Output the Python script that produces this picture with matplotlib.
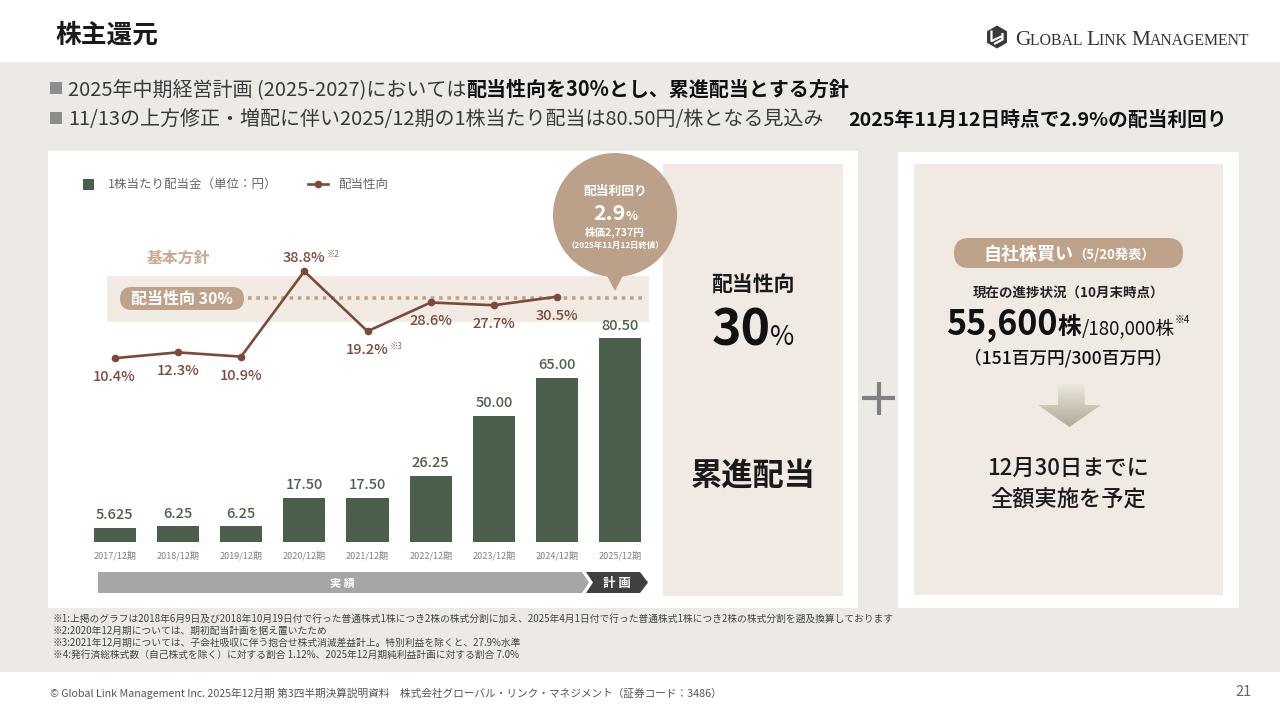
import matplotlib
matplotlib.use('Agg')
import matplotlib.pyplot as plt
from matplotlib.patches import Rectangle, FancyBboxPatch, Circle, Polygon, RegularPolygon
from matplotlib.colors import LinearSegmentedColormap
import numpy as np

plt.rcParams['font.family'] = ['Noto Sans CJK JP', 'DejaVu Sans']

# ---------------- data ----------------
periods = ['2017/12期', '2018/12期', '2019/12期', '2020/12期', '2021/12期',
           '2022/12期', '2023/12期', '2024/12期', '2025/12期']
dps = [5.625, 6.25, 6.25, 17.50, 17.50, 26.25, 50.00, 65.00, 80.50]
dps_labels = ['5.625', '6.25', '6.25', '17.50', '17.50', '26.25', '50.00', '65.00', '80.50']
payout = [10.4, 12.3, 10.9, 38.8, 19.2, 28.6, 27.7, 30.5]
payout_labels = ['10.4%', '12.3%', '10.9%', '38.8%', '19.2%', '28.6%', '27.7%', '30.5%']
payout_notes = ['', '', '', '※2', '※3', '', '', '']
payout_above = [False, False, False, True, False, False, False, False]
policy_payout = 30

footnotes = [
    '※1:上掲のグラフは2018年6月9日及び2018年10月19日付で行った普通株式1株につき2株の株式分割に加え、2025年4月1日付で行った普通株式1株につき2株の株式分割を遡及換算しております',
    '※2:2020年12月期については、期初配当計画を据え置いたため',
    '※3:2021年12月期については、子会社吸収に伴う抱合せ株式消滅差益計上。特別利益を除くと、27.9%水準',
    '※4:発行済総株式数（自己株式を除く）に対する割合 1.12%、2025年12月期純利益計画に対する割合 7.0%',
]

# ---------------- colors ----------------
C_BG = '#EDEAE6'
C_BEIGE = '#F0EAE3'
C_BAND = '#F2EBE3'
C_PILL = '#BEA38A'
C_GREEN = '#4B604A'
C_BROWN = '#7B4A3A'

W, H = 1280, 720
fig = plt.figure(figsize=(12.8, 7.2), dpi=100)
fig.patch.set_facecolor('white')

bg = fig.add_axes([0, 0, 1, 1], zorder=0)
bg.set_xlim(0, W); bg.set_ylim(H, 0); bg.axis('off')
ov = fig.add_axes([0, 0, 1, 1], zorder=5)
ov.set_xlim(0, W); ov.set_ylim(H, 0); ov.axis('off')

R = fig.canvas.get_renderer()


def rich(x, y, parts, ha='left', axx=None, **common):
    axx = axx or ov
    texts, widths = [], []
    for s, kw in parts:
        p = dict(common)
        p.update(kw)
        dy = p.pop('dy', 0)
        t = axx.text(0, y + dy, s, ha='left', va='baseline', **p)
        widths.append(t.get_window_extent(renderer=R).width)
        texts.append(t)
    total = sum(widths)
    cur = x if ha == 'left' else (x - total / 2 if ha == 'center' else x - total)
    for t, w in zip(texts, widths):
        t.set_x(cur)
        cur += w
    return total


# ---------------- backgrounds ----------------
bg.add_patch(Rectangle((0, 62), W, 610, color=C_BG, lw=0))
bg.add_patch(Rectangle((48, 151), 810, 457, color='white', lw=0))
bg.add_patch(Rectangle((898, 152), 341, 456, color='white', lw=0))
bg.add_patch(Rectangle((663, 164), 180, 432, color=C_BEIGE, lw=0))
bg.add_patch(Rectangle((914, 164), 309, 431, color=C_BEIGE, lw=0))
bg.add_patch(Rectangle((107, 276), 542, 46, color=C_BAND, lw=0))

# ---------------- header ----------------
ov.text(55, 42.5, '株主還元', fontsize=18.5, fontweight='bold', color='#1a1a1a', va='baseline')

# logo
ov.add_patch(RegularPolygon((997, 37), numVertices=6, radius=11.5, orientation=0, color='#3a3a3a', lw=0))
ov.plot([991.5, 991.5, 1002.5], [30.5, 41, 36], color='white', lw=1.6, solid_capstyle='butt')
ov.plot([994, 1002.5, 1002.5], [44, 39.5, 33], color='white', lw=1.6, solid_capstyle='butt')
rich(1015, 45, [('G', {'fontsize': 15.4}), ('LOBAL ', {'fontsize': 11.3}),
                ('L', {'fontsize': 15.4}), ('INK ', {'fontsize': 11.3}),
                ('M', {'fontsize': 15.4}), ('ANAGEMENT', {'fontsize': 11.3})],
     family='Liberation Serif', color='#333333')

# bullets
for yb in (82, 112):
    ov.add_patch(Rectangle((50, yb), 12, 12, color='#8C8C8C', lw=0))
rich(68, 95.5, [('2025年中期経営計画 (2025-2027)においては', {}),
                ('配当性向を30%とし、累進配当とする方針', {'fontweight': 'bold', 'color': '#111111'})],
     fontsize=14.4, color='#3a3a3a')
rich(68, 125.5, [('11/13の上方修正・増配に伴い2025/12期の1株当たり配当は80.50円/株となる見込み', {})],
     fontsize=14.4, color='#3a3a3a')
rich(848, 125.5, [('2025年11月12日時点で2.9%の配当利回り', {})], fontsize=14.2, fontweight='bold', color='#111111')

# ---------------- chart ----------------
ax = fig.add_axes([83 / W, (H - 542) / H, 569 / W, 362 / H], zorder=2)
ax.patch.set_alpha(0)
x = np.arange(len(periods))
ax.bar(x, dps, width=0.665, color=C_GREEN, zorder=2)
ax.set_xlim(-0.5, 8.5)
ax.set_ylim(0, 362 / 2.53)
for s in ax.spines.values():
    s.set_visible(False)
ax.set_yticks([])
ax.set_xticks(x)
ax.set_xticklabels(periods, fontsize=6.5, color='#808080')
ax.tick_params(axis='x', length=0, pad=6.5)
ax.axhline(0, color='#DDDDDD', lw=1, zorder=1)
for xi, v, lab in zip(x, dps, dps_labels):
    ax.annotate(lab, (xi, v), xytext=(0, 6), textcoords='offset points', ha='center',
                va='baseline', fontsize=10.5, fontweight='medium', color=C_GREEN)

ax2 = ax.twinx()
ax2.set_zorder(3)
ax2.patch.set_alpha(0)
ax2.set_ylim((390 - 542) / 3.06, (390 - 180) / 3.06)
ax2.axis('off')
ax2.hlines(policy_payout, 2.11, 8.39, colors=C_PILL, lw=2.6, linestyles=(0, (1.0, 1.3)), zorder=1)
xp = x[:len(payout)]
ax2.plot(xp, payout, color=C_BROWN, lw=1.9, marker='o', ms=4.5, zorder=3)
for xi, v, lab, note, above in zip(xp, payout, payout_labels, payout_notes, payout_above):
    off = 6.5 if above else -16.5
    ax2.annotate(lab, (xi, v), xytext=(0, off), textcoords='offset points', ha='center',
                 va='baseline', fontsize=10.5, fontweight='medium', color=C_BROWN)
    if note:
        ax2.annotate(note, (xi, v), xytext=(16, off + 3.5), textcoords='offset points', ha='left',
                     va='baseline', fontsize=6, color='#8a6a5a')

# legend
ov.add_patch(Rectangle((83, 179), 11, 11, color=C_GREEN, lw=0))
ov.text(108, 184, '1株当たり配当金（単位：円）', fontsize=9, color='#666666', va='center')
ov.plot([308, 328], [184, 184], color=C_BROWN, lw=1.9)
ov.plot([318], [184], marker='o', ms=4.5, color=C_BROWN)
ov.text(338, 184, '配当性向', fontsize=9, color='#666666', va='center')

# policy labels
ov.text(147, 258, '基本方針', fontsize=11.4, fontweight='bold', color='#C8AA90', va='center')
ov.add_patch(FancyBboxPatch((120, 287), 124, 23, boxstyle='round,pad=0,rounding_size=11.5',
                            color=C_PILL, lw=0))
ov.text(182, 298.5, '配当性向 30%', fontsize=11.5, fontweight='bold', color='white',
        ha='center', va='center')

# bubble
ov.add_patch(Circle((615, 215), 62, color='#BBA18A', lw=0))
ov.add_patch(Polygon([(603, 268), (627, 268), (615, 291)], closed=True, color='#BBA18A', lw=0))
ov.text(615, 191, '配当利回り', fontsize=9.2, fontweight='bold', color='white', ha='center', va='center')
rich(615, 220, [('2.9', {'fontsize': 15.5}), ('%', {'fontsize': 9})], ha='center',
     fontweight='bold', color='white')
ov.text(615, 232, '株価2,737円', fontsize=7.6, fontweight='bold', color='white', ha='center', va='center')
ov.text(615, 245, '（2025年11月12日終値）', fontsize=6, fontweight='bold', color='white', ha='center', va='center')

# 実績 / 計画 arrow
ov.add_patch(Polygon([(98, 572), (582, 572), (589, 582.5), (582, 593), (98, 593)], closed=True,
                     color='#A6A6A6', lw=0))
ov.add_patch(Polygon([(586, 572), (640, 572), (648, 582.5), (640, 593), (586, 593), (593, 582.5)],
                     closed=True, color='#404040', lw=0))
ov.text(342, 583, '実 績', fontsize=8, fontweight='bold', color='white', ha='center', va='center')
ov.text(617, 583, '計 画', fontsize=9, fontweight='bold', color='white', ha='center', va='center')

# middle panel
ov.text(753, 284, '配当性向', fontsize=15, fontweight='bold', color='#1a1a1a', ha='center', va='center')
rich(753, 345, [('30', {'fontsize': 36, 'fontweight': 'bold'}), ('%', {'fontsize': 19})],
     ha='center', color='#111111')
ov.text(753, 476, '累進配当', fontsize=22.5, fontweight='bold', color='#1a1a1a', ha='center', va='center')

# plus sign
ov.plot([862, 895], [398, 398], color='#808080', lw=3, solid_capstyle='butt')
ov.plot([878.5, 878.5], [382, 415], color='#808080', lw=3, solid_capstyle='butt')

# right panel
ov.add_patch(FancyBboxPatch((954, 238), 229, 30, boxstyle='round,pad=0,rounding_size=15',
                            color=C_PILL, lw=0))
rich(1069, 259.5, [('自社株買い', {'fontsize': 13}), ('（5/20発表）', {'fontsize': 9.5})],
     ha='center', fontweight='bold', color='white')
ov.text(1069, 293, '現在の進捗状況（10月末時点）', fontsize=9.7, fontweight='bold', color='#222222',
        ha='center', va='center')
rich(1068, 334, [('55,600', {'fontsize': 24.5, 'fontweight': 'bold'}),
                 ('株', {'fontsize': 17, 'fontweight': 'bold'}),
                 ('/180,000株', {'fontsize': 13.5}),
                 ('※4', {'fontsize': 7, 'dy': -11})], ha='center', color='#111111')
ov.text(1068, 358, '（151百万円/300百万円）', fontsize=12.7, fontweight='medium', color='#111111',
        ha='center', va='center')

# gradient arrow
arrow_pts = [(1058, 383), (1085, 383), (1085, 405), (1101, 405), (1069.5, 427), (1038, 405), (1058, 405)]
arrow = Polygon(arrow_pts, closed=True, facecolor='none', edgecolor='none')
ov.add_patch(arrow)
cmap = LinearSegmentedColormap.from_list('g', ['#EEE9E1', '#B0A997'])
im = ov.imshow(np.linspace(0, 1, 100).reshape(-1, 1), cmap=cmap, aspect='auto',
               extent=(1038, 1101, 427, 383), origin='upper', zorder=4)
im.set_clip_path(arrow)
ov.set_xlim(0, W); ov.set_ylim(H, 0)

ov.text(1068, 468, '12月30日までに', fontsize=16, fontweight='medium', color='#1a1a1a', ha='center', va='center')
ov.text(1068, 499, '全額実施を予定', fontsize=16, fontweight='medium', color='#1a1a1a', ha='center', va='center')

# footnotes
for i, s in enumerate(footnotes):
    ov.text(53, 619 + 12 * i, s, fontsize=7.0, color='#444444', va='center')

# footer
ov.text(50, 693, '© Global Link Management Inc. 2025年12月期 第3四半期決算説明資料　株式会社グローバル・リンク・マネジメント（証券コード：3486）',
        fontsize=7.7, color='#555555', va='center')
ov.text(1252, 692, '21', fontsize=10.5, style='italic', color='#666666', ha='right', va='center')

fig.savefig('out.png', dpi=100, facecolor='white')
